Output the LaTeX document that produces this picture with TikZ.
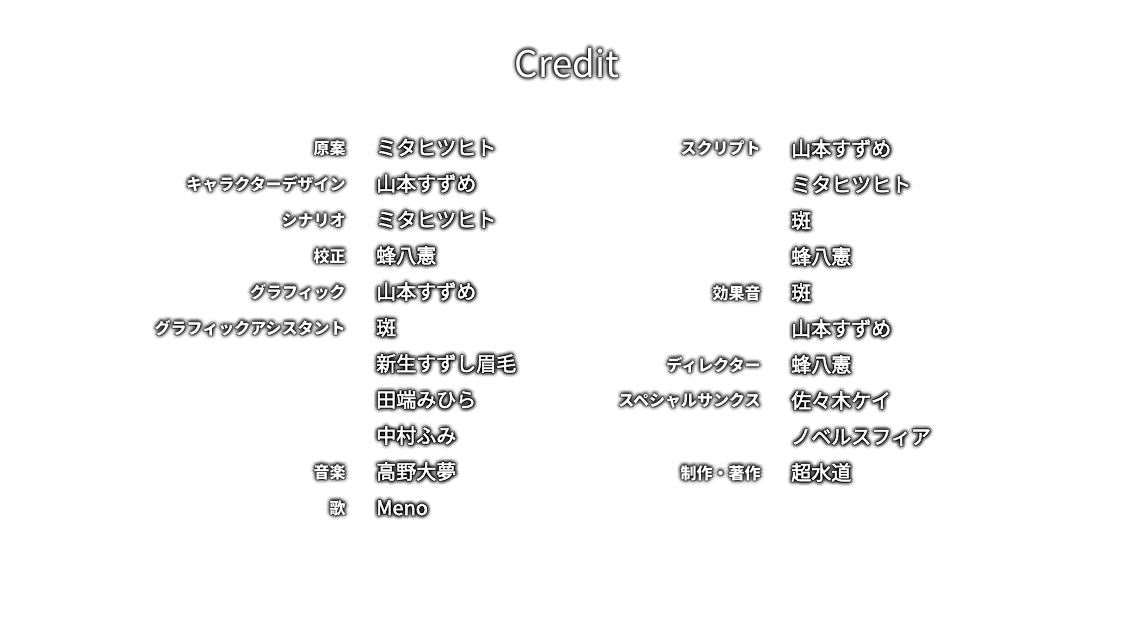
\documentclass[tikz,border=0pt]{standalone}
\usepackage{fontspec}
\setmainfont{Noto Sans CJK JP}
\newfontfamily\namefont{Noto Sans CJK JP}[FakeBold=2.5]
\newcommand\gl[5]{%
  \foreach \a in {0,45,...,315}{\node[#4,anchor=#3,text=black,opacity=0.26] at ([shift={(\a:1.0pt)}]#2) {#5};}%
  \foreach \a in {0,30,...,330}{\node[#4,anchor=#3,text=black,opacity=0.10] at ([shift={(\a:2.1pt)}]#2) {#5};}%
  \foreach \a in {0,22.5,...,337.5}{\node[#4,anchor=#3,text=black,opacity=0.045] at ([shift={(\a:3.3pt)}]#2) {#5};}%
  \node[#4,anchor=#3,text=white] (#1) at (#2) {#5};}
\tikzset{
  lab/.style={inner sep=0pt,font=\bfseries\fontsize{12}{12}\selectfont,text height=0.88em,text depth=0.12em},
  nam/.style={inner sep=0pt,font=\namefont\fontsize{15}{15}\selectfont,text height=0.88em,text depth=0.12em},
  ttl/.style={inner sep=0pt,font=\fontsize{27.5}{28}\selectfont}
}
\begin{document}
\begin{tikzpicture}[x=0.75pt,y=-0.75pt]
\useasboundingbox[fill=white] (0,0) rectangle (1136,640);
\gl{title}{567,63}{center}{ttl}{Credit}
% left column
\gl{l1}{346,149}{east}{lab}{原案}
\gl{n1}{376,150}{west}{nam}{ミタヒツヒト}
\gl{l2}{346,185}{east}{lab}{キャラクターデザイン}
\gl{n2}{376,186}{west}{nam}{山本すずめ}
\gl{l3}{346,221}{east}{lab}{シナリオ}
\gl{n3}{376,222}{west}{nam}{ミタヒツヒト}
\gl{l4}{346,257}{east}{lab}{校正}
\gl{n4}{376,258}{west}{nam}{蜂八憲}
\gl{l5}{346,293}{east}{lab}{グラフィック}
\gl{n5}{376,294}{west}{nam}{山本すずめ}
\gl{l6}{346,329}{east}{lab}{グラフィックアシスタント}
\gl{n6}{376,330}{west}{nam}{斑}
\gl{n7}{376,366}{west}{nam}{新生すずし眉毛}
\gl{n8}{376,402}{west}{nam}{田端みひら}
\gl{n9}{376,438}{west}{nam}{中村ふみ}
\gl{l10}{346,473}{east}{lab}{音楽}
\gl{n10}{376,474}{west}{nam}{高野大夢}
\gl{l11}{346,509}{east}{lab}{歌}
\gl{n11}{376,510}{west}{nam}{Meno}
% right column
\gl{r1}{761,149}{east}{lab}{スクリプト}
\gl{m1}{791,151}{west}{nam}{山本すずめ}
\gl{m2}{791,187}{west}{nam}{ミタヒツヒト}
\gl{m3}{791,223}{west}{nam}{斑}
\gl{m4}{791,259}{west}{nam}{蜂八憲}
\gl{r5}{761,294}{east}{lab}{効果音}
\gl{m5}{791,295}{west}{nam}{斑}
\gl{m6}{791,331}{west}{nam}{山本すずめ}
\gl{r7}{761,366}{east}{lab}{ディレクター}
\gl{m7}{791,367}{west}{nam}{蜂八憲}
\gl{r8}{761,401}{east}{lab}{スペシャルサンクス}
\gl{m8}{791,403}{west}{nam}{佐々木ケイ}
\gl{m9}{791,439}{west}{nam}{ノベルスフィア}
\gl{r10}{761,474}{east}{lab}{制作・著作}
\gl{m10}{791,475}{west}{nam}{超水道}
\end{tikzpicture}
\end{document}
